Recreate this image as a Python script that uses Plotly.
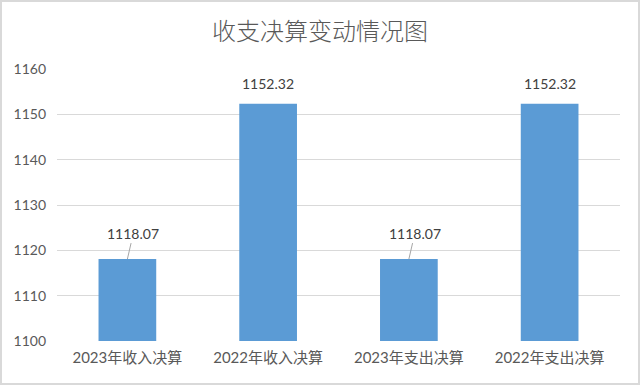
import plotly.graph_objects as go

categories = ["2023年收入决算", "2022年收入决算", "2023年支出决算", "2022年支出决算"]
values = [1118.07, 1152.32, 1118.07, 1152.32]
label_texts = ["1118.07", "1152.32", "1118.07", "1152.32"]
y_ticks = [1100, 1110, 1120, 1130, 1140, 1150, 1160]

font_family = "Lato, 'Noto Sans CJK SC', sans-serif"

W, H = 640, 385
ML, MR, MT, MB = 57, 20, 69, 44
PW, PH = W - ML - MR, H - MT - MB

fig = go.Figure()
fig.add_trace(go.Bar(
    x=categories, y=values, marker=dict(color="#5b9bd5", line=dict(width=0)),
    width=0.41, hoverinfo="skip",
))

annotations = []
for c, v, t in zip(categories, values, label_texts):
    if v < 1130:
        annotations.append(dict(x=c, y=v, xref="x", yref="y", text=t, showarrow=True,
                                arrowhead=0, arrowwidth=1, arrowcolor="#a6a6a6",
                                ax=6, ay=-26, standoff=0,
                                font=dict(size=14, color="#404040", family=font_family)))
    else:
        annotations.append(dict(x=c, y=v, xref="x", yref="y", text=t, showarrow=False,
                                yshift=20,
                                font=dict(size=14, color="#404040", family=font_family)))

fig.update_layout(
    width=W, height=H,
    margin=dict(l=ML, r=MR, t=MT, b=MB, autoexpand=False),
    paper_bgcolor="white", plot_bgcolor="white",
    title=dict(text="收支决算变动情况图", x=0.5, xanchor="center", y=1 - 32 / H, yanchor="middle",
               font=dict(size=24, color="#595959", weight=300,
                         family="'Noto Sans CJK SC', sans-serif")),
    showlegend=False,
    xaxis=dict(showgrid=False, showline=False, ticks="", ticklabelstandoff=6,
               tickfont=dict(size=15, color="#595959", family=font_family)),
    yaxis=dict(range=[1100, 1160], tickvals=y_ticks, showgrid=True, gridcolor="#d9d9d9",
               gridwidth=1, zeroline=False, showline=False, ticks="", ticklabelstandoff=10,
               tickfont=dict(size=14, color="#595959", family=font_family)),
    annotations=annotations,
    shapes=[dict(type="rect", xref="paper", yref="paper",
                 x0=-(ML - 1) / PW, x1=1 + (MR - 1) / PW,
                 y0=-(MB - 1) / PH, y1=1 + (MT - 1) / PH,
                 line=dict(color="#d9d9d9", width=2),
                 fillcolor="rgba(0,0,0,0)", layer="above")],
)

fig.write_html("out.html", config={"displayModeBar": False},
               post_script="document.body.style.margin='0px';")
